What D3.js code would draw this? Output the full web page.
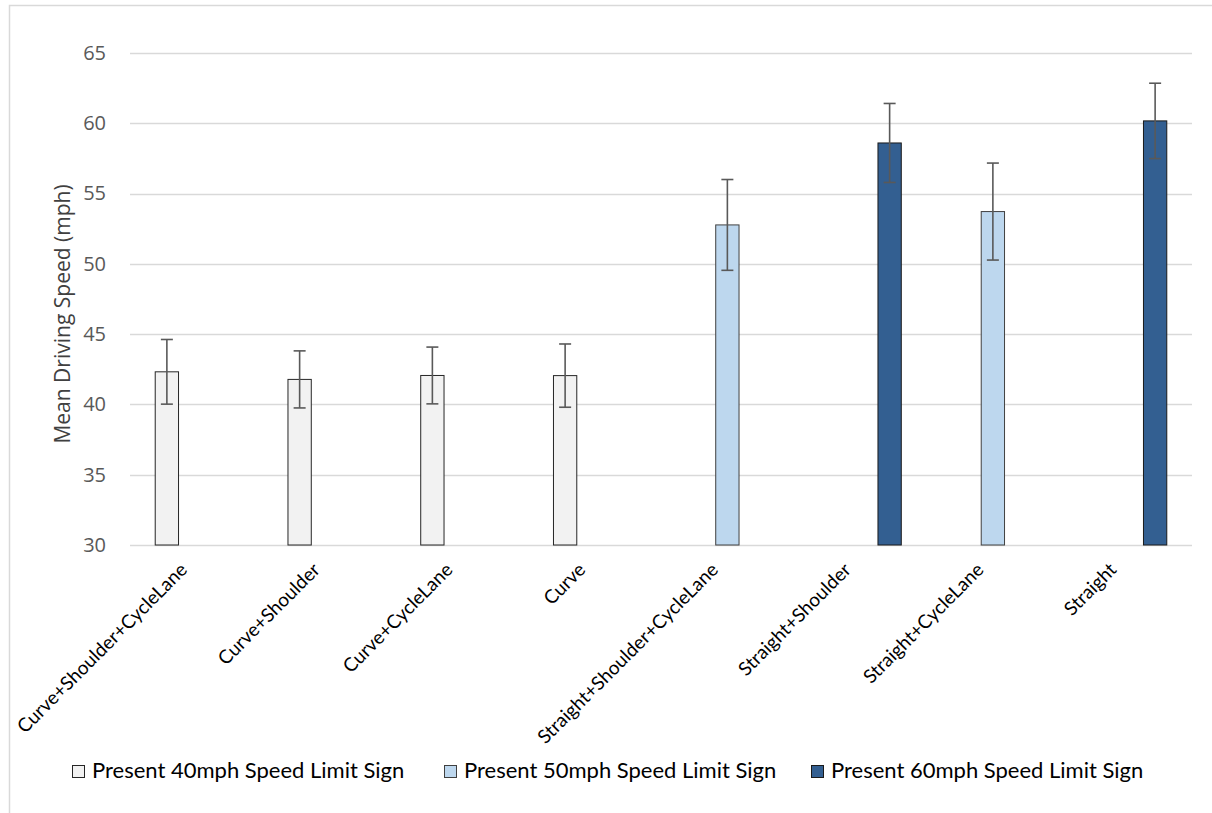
<!DOCTYPE html>
<html>
<head>
<meta charset="utf-8">
<script src="https://cdn.jsdelivr.net/npm/d3@7"></script>
<style>
  html, body { margin: 0; padding: 0; background: #ffffff; }
  svg { display: block; }
</style>
</head>
<body>
<svg id="chart" width="1212" height="813"></svg>
<script>
const categories = [
  "Curve+Shoulder+CycleLane", "Curve+Shoulder", "Curve+CycleLane", "Curve",
  "Straight+Shoulder+CycleLane", "Straight+Shoulder", "Straight+CycleLane", "Straight"
];
const seriesNames = [
  "Present 40mph Speed Limit Sign",
  "Present 50mph Speed Limit Sign",
  "Present 60mph Speed Limit Sign"
];
const mean40 = [42.32, 41.78, 42.06, 42.05, null, null, null, null];
const mean50 = [null, null, null, null, 52.77, null, 53.72, null];
const mean60 = [null, null, null, null, null, 58.60, null, 60.17];
const err40 = [2.30, 2.03, 2.02, 2.25, null, null, null, null];
const err50 = [null, null, null, null, 3.23, null, 3.45, null];
const err60 = [null, null, null, null, null, 2.81, null, 2.68];
const yTicks = [30, 35, 40, 45, 50, 55, 60, 65];
const seriesColors = ["#F2F2F2", "#BDD7EE", "#335F91"];
const seriesStrokes = ["#262626", "#404040", "#1a1a1a"];

const svg = d3.select("#chart");
const W = 1212, H = 813;
const plot = { left: 130, right: 1192, top: 53, bottom: 545 };

// outer chart border
svg.append("rect")
  .attr("x", 9.5).attr("y", 5.5)
  .attr("width", W + 20).attr("height", H + 20)
  .attr("fill", "#fff").attr("stroke", "#D9D9D9").attr("stroke-width", 1.5);

const x = d3.scaleBand().domain(categories).range([plot.left, plot.right]).padding(0);
const xs = d3.scaleBand().domain(seriesNames).range([0, x.bandwidth()])
  .paddingInner(0.21).paddingOuter(0.855);
const y = d3.scaleLinear().domain([30, 65]).range([plot.bottom, plot.top]);

// gridlines
svg.append("g").selectAll("line").data(yTicks).join("line")
  .attr("x1", plot.left).attr("x2", plot.right)
  .attr("y1", d => Math.round(y(d)) + 0.5).attr("y2", d => Math.round(y(d)) + 0.5)
  .attr("stroke", "#D9D9D9").attr("stroke-width", 1.3);

// y axis tick labels
const yAxis = d3.axisLeft(y).tickValues(yTicks).tickSize(0).tickPadding(24);
const gy = svg.append("g").attr("transform", `translate(${plot.left},0)`).call(yAxis);
gy.select(".domain").remove();
gy.selectAll("text")
  .attr("fill", "#595959")
  .style("font-family", "'Open Sans', sans-serif")
  .style("font-size", "20px");

// y axis title
svg.append("text")
  .attr("transform", `translate(70, ${(plot.top + plot.bottom) / 2 + 15}) rotate(-90)`)
  .attr("text-anchor", "middle")
  .attr("fill", "#404040")
  .style("font-family", "'Open Sans', sans-serif")
  .style("font-size", "21px")
  .text("Mean Driving Speed (mph)");

// data
const means = [mean40, mean50, mean60];
const errs = [err40, err50, err60];
const bars = [];
seriesNames.forEach((s, si) => {
  categories.forEach((c, ci) => {
    if (means[si][ci] != null) bars.push({ s, si, c, v: means[si][ci], e: errs[si][ci] });
  });
});

svg.append("g").selectAll("rect").data(bars).join("rect")
  .attr("x", d => x(d.c) + xs(d.s))
  .attr("y", d => y(d.v))
  .attr("width", xs.bandwidth())
  .attr("height", d => y(30) - y(d.v))
  .attr("fill", d => seriesColors[d.si])
  .attr("stroke", d => seriesStrokes[d.si])
  .attr("stroke-width", 1);

// error bars
const eg = svg.append("g").attr("stroke", "#595959").attr("stroke-width", 1.6);
bars.forEach(d => {
  const cx = x(d.c) + xs(d.s) + xs.bandwidth() / 2;
  eg.append("line").attr("x1", cx).attr("x2", cx).attr("y1", y(d.v + d.e)).attr("y2", y(d.v - d.e));
  eg.append("line").attr("x1", cx - 6).attr("x2", cx + 6).attr("y1", y(d.v + d.e)).attr("y2", y(d.v + d.e));
  eg.append("line").attr("x1", cx - 6).attr("x2", cx + 6).attr("y1", y(d.v - d.e)).attr("y2", y(d.v - d.e));
});

// category labels
svg.append("g").selectAll("text").data(categories).join("text")
  .attr("transform", d => `translate(${x(d) + x.bandwidth() / 2 - 8}, ${plot.bottom + 26}) rotate(-45)`)
  .attr("text-anchor", "end")
  .attr("fill", "#000")
  .style("font-family", "Lato, sans-serif")
  .style("font-size", "19px")
  .text(d => d);

// legend
const legendX = [72, 444, 811];
const lg = svg.append("g");
seriesNames.forEach((s, i) => {
  lg.append("rect")
    .attr("x", legendX[i] + 0.5).attr("y", 765.5)
    .attr("width", 12).attr("height", 12)
    .attr("fill", seriesColors[i]).attr("stroke", seriesStrokes[i]).attr("stroke-width", 1);
  lg.append("text")
    .attr("x", legendX[i] + 20).attr("y", 778)
    .attr("fill", "#000")
    .style("font-family", "Lato, sans-serif")
    .style("font-size", "22px")
    .text(s);
});
</script>
</body>
</html>
